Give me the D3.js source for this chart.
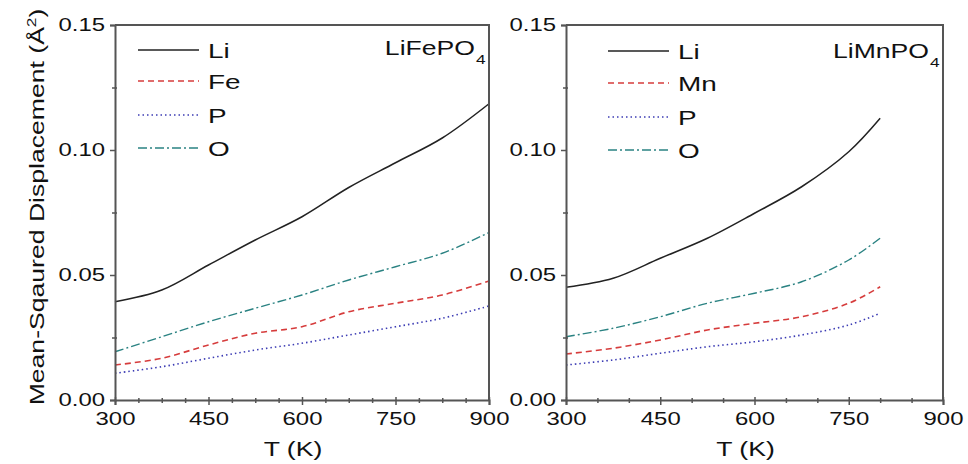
<!DOCTYPE html>
<html>
<head>
<meta charset="utf-8">
<script src="https://cdn.jsdelivr.net/npm/d3@7"></script>
<style>
  html, body { margin: 0; padding: 0; background: #fff; }
  svg { display: block; font-family: "Liberation Sans", Arial, sans-serif; }
</style>
</head>
<body>
<svg id="chart" width="968" height="464"></svg>
<script>
// Temperatures (K)
const tempsFe = [300, 375, 450, 525, 600, 675, 750, 825, 900];
const tempsMn = [300, 375, 450, 525, 600, 675, 750, 800];

// LiFePO4 mean-squared displacement (Å^2)
const feLi = [0.0393, 0.0440, 0.0540, 0.0640, 0.0733, 0.0850, 0.0949, 0.1048, 0.1185];
const feFe = [0.0140, 0.0167, 0.0220, 0.0267, 0.0293, 0.0353, 0.0387, 0.0420, 0.0476];
const feP  = [0.0107, 0.0133, 0.0167, 0.0200, 0.0227, 0.0260, 0.0293, 0.0327, 0.0376];
const feO  = [0.0193, 0.0253, 0.0313, 0.0367, 0.0420, 0.0480, 0.0533, 0.0587, 0.0670];

// LiMnPO4 mean-squared displacement (Å^2)
const mnLi = [0.0451, 0.0487, 0.0567, 0.0647, 0.0747, 0.0853, 0.0993, 0.1127];
const mnMn = [0.0184, 0.0207, 0.0240, 0.0280, 0.0307, 0.0333, 0.0387, 0.0453];
const mnP  = [0.0140, 0.0160, 0.0187, 0.0213, 0.0233, 0.0260, 0.0300, 0.0347];
const mnO  = [0.0253, 0.0287, 0.0333, 0.0387, 0.0427, 0.0473, 0.0560, 0.0647];

// Axis ticks
const xTicks = [300, 450, 600, 750, 900];
const yTicks = [0.00, 0.05, 0.10, 0.15];
const xMinorFe = [337.5, 375, 412.5, 487.5, 525, 562.5, 637.5, 675, 712.5, 787.5, 825, 862.5];
const xMinorMn = [350, 400, 500, 550, 650, 700, 800, 850];
const yMinorFe = [0.025, 0.075, 0.125];
const yMinorMn = [0.025, 0.075, 0.125];

const SX = 1.33; // horizontal stretch applied to text

const styles = {
  Li: { color: "#222222", dash: null, width: 1.5 },
  M:  { color: "#d63c3c", dash: "6,4", width: 1.6 },
  P:  { color: "#3c3cb4", dash: "1.5,3", width: 1.6 },
  O:  { color: "#2a8282", dash: "9,3,2,3", width: 1.4 }
};

const panels = [
  {
    name: "LiFePO", x0: 115, x1: 489, temps: tempsFe,
    xMinor: xMinorFe, yMinor: yMinorFe, titleRight: 475, titleY: 55,
    series: [
      { label: "Li", key: "Li", values: feLi },
      { label: "Fe", key: "M", values: feFe },
      { label: "P",  key: "P", values: feP },
      { label: "O",  key: "O", values: feO }
    ],
    legendX: 138, legendY: [50, 81, 115, 148]
  },
  {
    name: "LiMnPO", x0: 566, x1: 943, temps: tempsMn,
    xMinor: xMinorMn, yMinor: yMinorMn, titleRight: 929, titleY: 58,
    series: [
      { label: "Li", key: "Li", values: mnLi },
      { label: "Mn", key: "M", values: mnMn },
      { label: "P",  key: "P", values: mnP },
      { label: "O",  key: "O", values: mnO }
    ],
    legendX: 608, legendY: [51, 83, 117, 150]
  }
];

const svg = d3.select("#chart");
const yTop = 25, yBottom = 400;
const y = d3.scaleLinear().domain([0, 0.15]).range([yBottom, yTop]);
const frameColor = "#555";

function stretchText(sel) {
  sel.each(function () {
    const t = d3.select(this);
    const tx = +t.attr("x") || 0;
    t.attr("x", tx / SX).attr("transform", `scale(${SX},1)`);
  });
}

panels.forEach(p => {
  const x = d3.scaleLinear().domain([300, 900]).range([p.x0, p.x1]);
  const g = svg.append("g");

  // curves
  const line = d3.line()
    .x((d, i) => x(p.temps[i]))
    .y(d => y(d))
    .curve(d3.curveCatmullRom.alpha(0.5));

  p.series.forEach(s => {
    const st = styles[s.key];
    g.append("path")
      .attr("d", line(s.values))
      .attr("fill", "none")
      .attr("stroke", st.color)
      .attr("stroke-width", st.width)
      .attr("stroke-dasharray", st.dash);
  });

  // frame (top and right)
  g.append("path")
    .attr("d", `M${p.x0},${yTop}H${p.x1}V${yBottom}`)
    .attr("fill", "none")
    .attr("stroke", frameColor)
    .attr("stroke-width", 2);

  // bottom axis
  const xAxis = g.append("g")
    .attr("transform", `translate(0,${yBottom})`)
    .call(d3.axisBottom(x).tickValues(xTicks).tickSize(5).tickPadding(7).tickFormat(d3.format("d")));
  xAxis.select(".domain").attr("stroke", frameColor).attr("stroke-width", 2);
  xAxis.selectAll(".tick line").attr("stroke", frameColor).attr("stroke-width", 1.5).attr("y1", -3);
  xAxis.selectAll(".tick text")
    .attr("fill", "#111").style("font-size", "18px").style("font-family", "Liberation Sans, Arial, sans-serif")
    .call(stretchText);

  const xMinorAxis = g.append("g")
    .attr("transform", `translate(0,${yBottom})`)
    .call(d3.axisBottom(x).tickValues(p.xMinor).tickSize(3).tickFormat(""));
  xMinorAxis.select(".domain").remove();
  xMinorAxis.selectAll(".tick line").attr("stroke", frameColor).attr("stroke-width", 1.5).attr("y1", -2);

  // left axis
  const yAxis = g.append("g")
    .attr("transform", `translate(${p.x0},0)`)
    .call(d3.axisLeft(y).tickValues(yTicks).tickSize(5).tickPadding(5).tickFormat(d3.format(".2f")));
  yAxis.select(".domain").attr("stroke", frameColor).attr("stroke-width", 2);
  yAxis.selectAll(".tick line").attr("stroke", frameColor).attr("stroke-width", 1.5);
  yAxis.selectAll(".tick text")
    .attr("fill", "#111").style("font-size", "18px").style("font-family", "Liberation Sans, Arial, sans-serif")
    .call(stretchText);

  const yMinorAxis = g.append("g")
    .attr("transform", `translate(${p.x0},0)`)
    .call(d3.axisLeft(y).tickValues(p.yMinor).tickSize(3).tickFormat(""));
  yMinorAxis.select(".domain").remove();
  yMinorAxis.selectAll(".tick line").attr("stroke", frameColor).attr("stroke-width", 1.5).attr("x1", 2);

  // x-axis title
  g.append("text")
    .attr("transform", `translate(${(p.x0 + p.x1) / 2 - 9},456) scale(${SX},1)`)
    .attr("text-anchor", "middle")
    .style("font-size", "20px")
    .attr("fill", "#111")
    .text("T (K)");

  // legend
  p.series.forEach((s, i) => {
    const st = styles[s.key];
    const ly = p.legendY[i];
    g.append("line")
      .attr("x1", p.legendX).attr("x2", p.legendX + 61)
      .attr("y1", ly).attr("y2", ly)
      .attr("stroke", st.color)
      .attr("stroke-width", st.width)
      .attr("stroke-dasharray", st.dash);
    g.append("text")
      .attr("transform", `translate(${p.legendX + 70},${ly + 8}) scale(${SX},1)`)
      .style("font-size", "21px")
      .attr("fill", "#111")
      .text(s.label);
  });

  // compound label with subscript
  g.append("text")
    .attr("transform", `translate(${p.titleRight},${p.titleY}) scale(${SX},1)`)
    .attr("text-anchor", "end")
    .style("font-size", "20px")
    .attr("fill", "#111")
    .text(p.name);
  g.append("text")
    .attr("transform", `translate(${p.titleRight + 1},${p.titleY + 9}) scale(${SX},1)`)
    .style("font-size", "13px")
    .attr("fill", "#111")
    .text("4");
});

// shared y-axis title
svg.append("text")
  .attr("transform", `translate(44,207) rotate(-90) scale(${SX},1)`)
  .attr("text-anchor", "middle")
  .style("font-size", "20px")
  .attr("fill", "#111")
  .html('Mean-Sqaured Displacement (Å<tspan dy="-8" font-size="13px">2</tspan><tspan dy="8">)</tspan>');
</script>
</body>
</html>
